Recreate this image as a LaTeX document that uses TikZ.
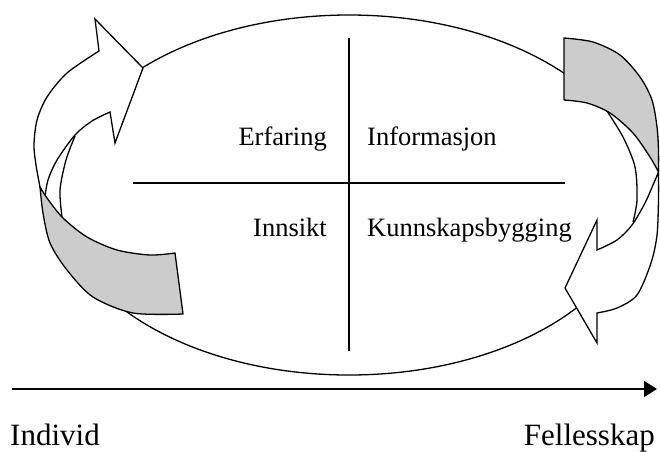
\documentclass[tikz,border=0pt]{standalone}
\usepackage{fontspec}
\setmainfont{Liberation Serif}
\usetikzlibrary{arrows.meta}

\begin{document}
\begin{tikzpicture}[x=1pt, y=-1pt,
    word/.style={font=\fontsize{26.5}{30}\selectfont, inner sep=0pt},
    pole/.style={font=\fontsize{31}{34}\selectfont, inner sep=0pt},
    band/.style={draw, line width=1.3pt, fill=black!20, line join=round},
    face/.style={draw, line width=1.3pt, fill=white, line join=miter},
    arr/.style={-{Triangle[length=13pt, width=16pt]}, line width=1.3pt}
]
\useasboundingbox (0,0) rectangle (660,451);

% ellipse and quadrants
\draw[line width=1.3pt] (349,195) ellipse [x radius=292, y radius=180];
\draw[line width=1.3pt] (349,38) -- (349,351);
\draw[line width=1.3pt] (133,183) -- (565,183);

\node[word, anchor=base east] (erf) at (327,145) {Erfaring};
\node[word, anchor=base west] (inf) at (367,145) {Informasjon};
\node[word, anchor=base east] (inn) at (327,236) {Innsikt};
\node[word, anchor=base west] (kun) at (367,236) {Kunnskapsbygging};

% left arrow
\fill[white] (75,136) -- (66,160) -- (60,190) -- (62,217) -- (45,197) -- (40,160) -- (60,125) -- cycle;
\draw[line width=1.3pt] plot[smooth] coordinates {(75,136) (66,160) (60,190) (62,217)};
\path[face] plot[smooth] coordinates {(40,187) (36,165) (34,145) (37,120) (47,97) (67,73) (99,51)}
    -- (95,19) -- (143,68) -- (115,143) -- (110,112)
    -- plot[smooth] coordinates {(110,112) (92,121) (75,135) (57,160) (48,180) (45,197)}
    -- cycle;
\path[band] plot[smooth] coordinates {(40,187) (43,213) (50,243) (67,270) (93,297) (133,313) (183,314)}
    -- (175,253)
    -- plot[smooth] coordinates {(175,253) (150,255) (117,250) (87,237) (63,218) (47,198) (40,187)}
    -- cycle;

% right arrow
\fill[white] (605,108) -- (623,137) -- (635,167) -- (637,200) -- (633,222) -- (650,215) -- (659,172) -- (640,120) -- (605,95) -- cycle;
\draw[line width=1.3pt] plot[smooth] coordinates {(605,108) (623,137) (635,167) (637,200) (633,222)};
\path[face] plot[smooth] coordinates {(658.5,172) (658.5,200) (657,235) (651,263) (637,295) (617,308) (597,313)}
    -- (597,343) -- (565,288) -- (597,220) -- (597,250)
    -- plot[smooth] coordinates {(597,250) (617,240) (632,225) (645,203) (653,185) (658.5,172)}
    -- cycle;
\path[band] (564,100) -- (564,38)
    -- plot[smooth] coordinates {(564,38) (593,42) (620,55) (640,77) (652,100) (657,127) (658.5,150) (658.5,172)}
    -- plot[smooth] coordinates {(658.5,172) (650,157) (633,133) (610,113) (587,103) (564,100)}
    -- cycle;

% axis
\node[pole, anchor=base west] (ind) at (10,445) {Individ};
\node[pole, anchor=base east] (fel) at (655,445) {Fellesskap};
\coordinate (ax0) at (12,389);
\coordinate (ax1) at (657,389);
\draw[arr] (ax0) -- (ax1);
\end{tikzpicture}
\end{document}
